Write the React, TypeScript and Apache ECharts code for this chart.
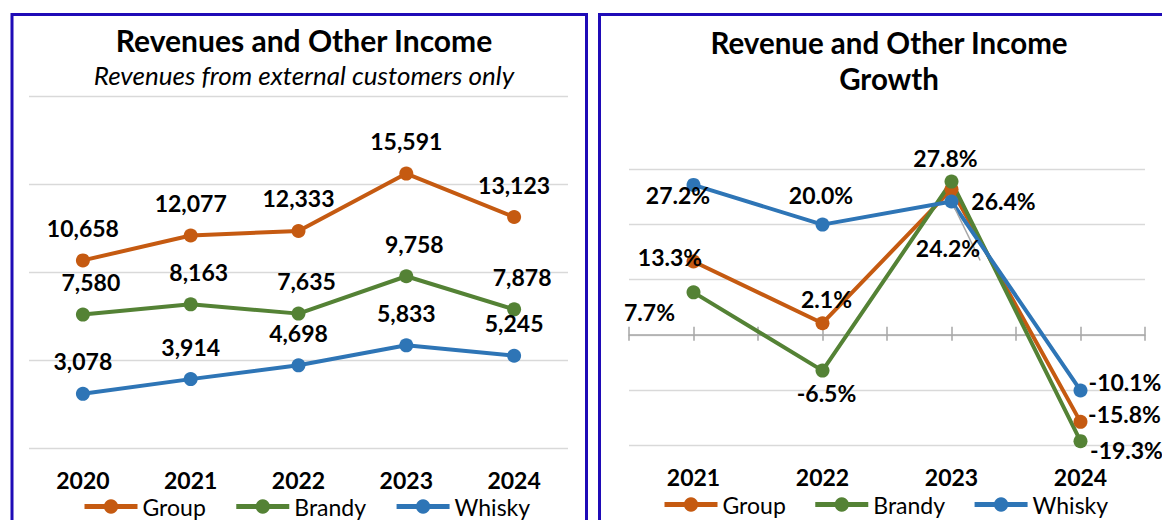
import React, { useEffect, useRef } from "react";
import * as echarts from "echarts";

// ---------- data ----------
const revenueYears = ["2020", "2021", "2022", "2023", "2024"];
const groupRevenue = [10658, 12077, 12333, 15591, 13123];
const brandyRevenue = [7580, 8163, 7635, 9758, 7878];
const whiskyRevenue = [3078, 3914, 4698, 5833, 5245];

const growthYears = ["2021", "2022", "2023", "2024"];
const groupGrowth = [13.3, 2.1, 26.4, -15.8];
const brandyGrowth = [7.7, -6.5, 27.8, -19.3];
const whiskyGrowth = [27.2, 20.0, 24.2, -10.1];

const seriesNames = ["Group", "Brandy", "Whisky"];
const revenueAxis = { min: 0, max: 20000, interval: 5000 };
const growthAxis = { min: -20, max: 30, interval: 10 };

// ---------- label placement (styles, not data) ----------
const groupGrowthLabelOffsets = [[-23.5, -5], [4, -24], [52, 12], [44, -8]];
const brandyGrowthLabelOffsets = [[-44, 20], [4, 22], [-6, -24], [46, 9]];
const whiskyGrowthLabelOffsets = [[-15.5, 10], [-1.5, -30], [-3.5, 47], [44.5, -8]];
const whiskyLeaderLines = [false, false, true, false];

const FONT = "Lato, 'Noto Sans', sans-serif";
const COLORS: Record<string, string> = {
  Group: "#C55A11",
  Brandy: "#548235",
  Whisky: "#2E75B6",
};
const BORDER = "#1F0BB7";
const GRID_COLOR = "#D9D9D9";
const AXIS_COLOR = "#A6A6A6";

const labelFont = {
  fontFamily: FONT,
  fontSize: 23,
  fontWeight: "bold" as const,
  color: "#000",
  textBorderWidth: 0,
  textBorderColor: "transparent",
};

function buildOption() {
  const revenueSets = [
    { name: "Group", data: groupRevenue, offset: [0, 0] },
    { name: "Brandy", data: brandyRevenue, offset: [8, 0] },
    { name: "Whisky", data: whiskyRevenue, offset: [0, 0] },
  ];
  const growthSets = [
    { name: "Group", data: groupGrowth, offsets: groupGrowthLabelOffsets, leaders: [false, false, false, false] },
    { name: "Brandy", data: brandyGrowth, offsets: brandyGrowthLabelOffsets, leaders: [false, false, false, false] },
    { name: "Whisky", data: whiskyGrowth, offsets: whiskyGrowthLabelOffsets, leaders: whiskyLeaderLines },
  ];

  const leftSeries = revenueSets.map((s) => ({
    type: "line",
    name: s.name,
    xAxisIndex: 0,
    yAxisIndex: 0,
    data: s.data,
    symbol: "circle",
    symbolSize: 14,
    lineStyle: { width: 4, color: COLORS[s.name] },
    itemStyle: { color: COLORS[s.name] },
    label: {
      show: true,
      position: "top",
      distance: 14,
      offset: s.offset,
      formatter: (p: any) => Number(p.value).toLocaleString("en-US"),
      ...labelFont,
    },
  }));

  const rightSeries = growthSets.map((s) => ({
    type: "line",
    name: s.name,
    xAxisIndex: 1,
    yAxisIndex: 1,
    data: s.data.map((v, i) => {
      const item: any = {
        value: v,
        label: { offset: s.offsets[i] },
      };
      if (s.leaders[i]) {
        item.label.padding = [12, 0, 0, 0];
        item.labelLine = {
          show: true,
          lineStyle: { color: AXIS_COLOR, width: 1.5 },
        };
      }
      return item;
    }),
    symbol: "circle",
    symbolSize: 14,
    lineStyle: { width: 4, color: COLORS[s.name] },
    itemStyle: { color: COLORS[s.name] },
    label: {
      show: true,
      position: "inside",
      formatter: (p: any) => Number(p.value).toFixed(1) + "%",
      ...labelFont,
    },
  }));

  const legendBase = {
    data: seriesNames,
    itemWidth: 53,
    itemHeight: 18,
    padding: 0,
    selectedMode: false,
    lineStyle: { width: 5 },
    textStyle: { fontFamily: FONT, fontSize: 23, color: "#000" },
  };

  const titleText = (text: string, x: number, y: number, extra: any = {}) => ({
    type: "text",
    x,
    y,
    silent: true,
    style: {
      text,
      fill: "#000",
      fontFamily: FONT,
      fontSize: 30,
      fontWeight: "bold",
      textAlign: "center",
      verticalAlign: "middle",
      ...extra,
    },
  });

  return {
    animation: false,
    backgroundColor: "#fff",
    grid: [
      { left: 29, top: 96, width: 539, height: 352, containLabel: false },
      { left: 629, top: 169.5, width: 516, height: 275.5, containLabel: false },
    ],
    xAxis: [
      {
        gridIndex: 0,
        type: "category",
        data: revenueYears,
        boundaryGap: true,
        position: "bottom",
        axisLine: { show: false, onZero: false },
        axisTick: { show: false },
        axisLabel: { margin: 20, ...labelFont },
        splitLine: { show: false },
      },
      {
        gridIndex: 1,
        type: "category",
        data: growthYears,
        boundaryGap: true,
        position: "bottom",
        axisLine: { show: false, onZero: false },
        axisTick: { show: false },
        axisLabel: { margin: 20, ...labelFont },
        splitLine: { show: false },
      },
      {
        gridIndex: 1,
        type: "value",
        position: "bottom",
        min: 0,
        max: growthYears.length * 2,
        interval: 1,
        axisLine: {
          show: true,
          onZero: true,
          onZeroAxisIndex: 1,
          lineStyle: { color: AXIS_COLOR, width: 1.5 },
        },
        axisTick: { show: true, inside: false, length: 6, lineStyle: { color: AXIS_COLOR, width: 1.5 } },
        axisLabel: { show: false },
        splitLine: { show: false },
      },
      {
        gridIndex: 1,
        type: "value",
        position: "bottom",
        min: 0,
        max: growthYears.length * 2,
        interval: 1,
        axisLine: { show: false, onZero: true, onZeroAxisIndex: 1 },
        axisTick: { show: true, inside: true, length: 8, lineStyle: { color: AXIS_COLOR, width: 1.5 } },
        axisLabel: { show: false },
        splitLine: { show: false },
      },
    ],
    yAxis: [
      {
        gridIndex: 0,
        type: "value",
        ...revenueAxis,
        axisLine: { show: false, onZero: false },
        axisTick: { show: false },
        axisLabel: { show: false },
        splitLine: { show: true, lineStyle: { color: GRID_COLOR, width: 1.3 } },
      },
      {
        gridIndex: 1,
        type: "value",
        ...growthAxis,
        axisLine: { show: false, onZero: false },
        axisTick: { show: false },
        axisLabel: { show: false },
        splitLine: { show: true, lineStyle: { color: GRID_COLOR, width: 1.3 } },
      },
    ],
    legend: [
      { ...legendBase, left: 82, top: 495, itemGap: 28 },
      { ...legendBase, left: 662, top: 493, itemGap: 27 },
    ],
    graphic: [
      {
        type: "rect",
        silent: true,
        shape: { x: 12, y: 14.5, width: 574.5, height: 520 },
        style: { fill: "none", stroke: BORDER, lineWidth: 3 },
      },
      {
        type: "rect",
        silent: true,
        shape: { x: 599.5, y: 14.5, width: 575, height: 520 },
        style: { fill: "none", stroke: BORDER, lineWidth: 3 },
      },
      titleText("Revenues and Other Income", 304, 40),
      titleText("Revenues from external customers only", 304, 75, {
        fontWeight: "normal",
        fontStyle: "italic",
        fontSize: 26,
      }),
      titleText("Revenue and Other Income\nGrowth", 889, 60, { lineHeight: 36, fontSize: 29.5 }),
    ],
    series: [...leftSeries, ...rightSeries],
  };
}

export default function App() {
  const ref = useRef<HTMLDivElement>(null);
  useEffect(() => {
    if (!ref.current) return;
    const chart = echarts.init(ref.current, undefined, { renderer: "svg" });
    chart.setOption(buildOption() as any);
    return () => {
      chart.dispose();
    };
  }, []);
  return (
    <div
      ref={ref}
      style={{
        position: "absolute",
        left: 0,
        top: 0,
        width: 1162,
        height: 520,
        background: "#fff",
      }}
    />
  );
}
